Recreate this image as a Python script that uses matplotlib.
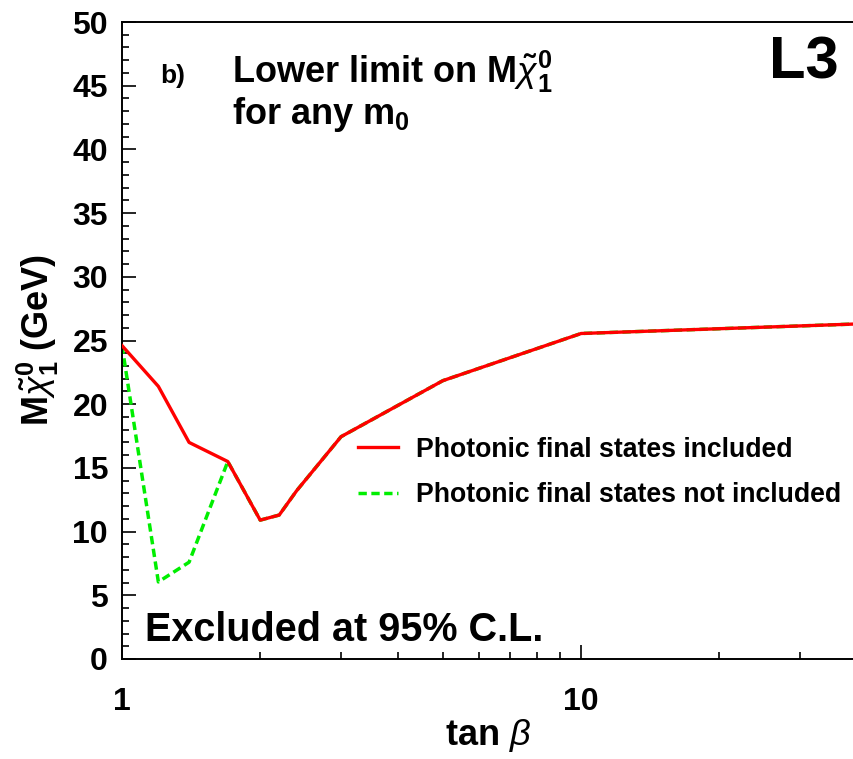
import numpy as np
import matplotlib
matplotlib.use('Agg')
import matplotlib.pyplot as plt
from matplotlib.ticker import FixedLocator, NullFormatter, FixedFormatter

# lower limit on neutralino mass vs tan beta
tanb_incl = [1.0, 1.2, 1.4, 1.7, 2.0, 2.2, 2.4, 3.0, 5.0, 10.0, 40.0]
mass_incl = [24.6, 21.4, 17.0, 15.5, 10.9, 11.3, 13.2, 17.45, 21.85, 25.55, 26.3]

tanb_excl = [1.0, 1.2, 1.4, 1.7, 2.0, 2.2, 2.4, 3.0, 5.0, 10.0, 40.0]
mass_excl = [24.6, 6.05, 7.6, 15.5, 10.9, 11.3, 13.2, 17.45, 21.85, 25.55, 26.3]

lab_incl = 'Photonic final states included'
lab_excl = 'Photonic final states not included'

plt.rcParams['font.family'] = ['Liberation Sans', 'DejaVu Sans']
plt.rcParams['font.weight'] = 'bold'
plt.rcParams['mathtext.fontset'] = 'custom'
plt.rcParams['mathtext.rm'] = 'Liberation Sans:bold'
plt.rcParams['mathtext.bf'] = 'Liberation Sans:bold'
plt.rcParams['mathtext.it'] = 'Liberation Sans:style=italic:weight=normal'

fig = plt.figure(figsize=(8.54, 7.59), dpi=100)
ax = fig.add_axes([122/854, 1-659/759, 732/854, 637/759])

ax.plot(tanb_excl, mass_excl, color='#00ee00', lw=2.5, dashes=(2.4, 1.3), label=lab_excl, zorder=2)
ax.plot(tanb_incl, mass_incl, color='#ff0000', lw=2.4, label=lab_incl, zorder=3)

ax.set_xscale('log')
ax.set_xlim(1, 39.3)
ax.set_ylim(0, 50)

ax.xaxis.set_major_locator(FixedLocator([1, 10]))
ax.xaxis.set_major_formatter(FixedFormatter(['1', '10']))
ax.xaxis.set_minor_locator(FixedLocator([2, 3, 4, 5, 6, 7, 8, 9, 20, 30]))
ax.xaxis.set_minor_formatter(NullFormatter())
ax.yaxis.set_major_locator(FixedLocator(np.arange(0, 51, 5)))
ax.yaxis.set_minor_locator(FixedLocator(np.arange(0, 51, 1)))

ax.tick_params(which='both', direction='in', width=1.2, labelsize=23)
ax.tick_params(which='major', length=10)
ax.tick_params(which='minor', length=5)
ax.tick_params(axis='x', pad=20)
ax.tick_params(axis='y', pad=10)
ax.tick_params(top=False, right=False, which='both')

for s in ['left', 'bottom', 'top']:
    ax.spines[s].set_linewidth(1.4)
ax.spines['right'].set_visible(False)

ax.set_xlabel(r'tan $\beta$', fontsize=26, fontweight='bold', labelpad=0)
ax.set_ylabel(r'M$\tilde{\chi}^{0}_{1}$ (GeV)', fontsize=26, fontweight='bold', labelpad=8)

ax.text(0.052, 0.905, 'b)', transform=ax.transAxes, fontsize=19, fontweight='bold', va='baseline')
ax.text(0.150, 0.905, r'Lower limit on M$\tilde{\chi}^{0}_{1}$', transform=ax.transAxes,
        fontsize=26, fontweight='bold', va='baseline')
ax.text(0.150, 0.840, r'for any m$_{0}$', transform=ax.transAxes,
        fontsize=26, fontweight='bold', va='baseline')
ax.text(0.979, 0.912, 'L3', transform=ax.transAxes, fontsize=43, fontweight='bold',
        va='baseline', ha='right')
ax.text(0.031, 0.029, 'Excluded at 95% C.L.', transform=ax.transAxes,
        fontsize=28.5, fontweight='bold', va='baseline')

h, l = ax.get_legend_handles_labels()
ax.legend(h[::-1], l[::-1], loc='upper left', bbox_to_anchor=(0.322, 0.349), frameon=False,
          fontsize=19.2, handlelength=1.5, handletextpad=0.7, labelspacing=0.72,
          borderpad=0, borderaxespad=0)

fig.savefig('out.png', dpi=100)
